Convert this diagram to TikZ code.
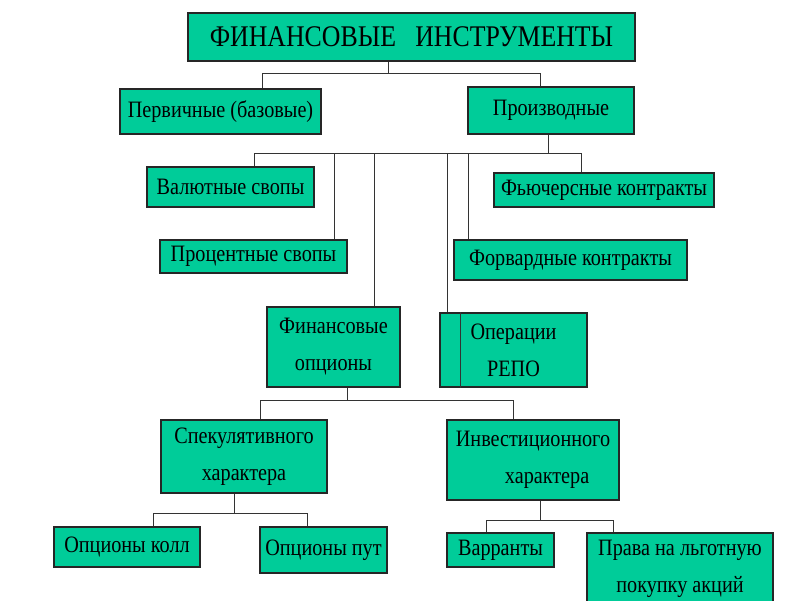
\documentclass[tikz,border=0pt]{standalone}
\usepackage{fontspec}
\setmainfont{Liberation Serif}[FakeStretch=0.86]
\definecolor{boxgreen}{RGB}{0,204,153}

\begin{document}
\begin{tikzpicture}[x=1pt, y=-1pt,
                box/.style = {draw=black!85, fill=boxgreen, line width=1.2pt, inner sep=0pt,
                              align=center, font=\fontsize{23.5}{37}\selectfont},
                link/.style = {draw=black!80, line width=1pt}]
                \useasboundingbox (0,0) rectangle (800,600);

                \node (fin)    [box, minimum width=447pt, minimum height=48pt,
                                font=\fontsize{30}{30}\selectfont] at (411.5,37) {ФИНАНСОВЫЕ\ \ \ ИНСТРУМЕНТЫ};
                \node (perv)   [box, minimum width=201pt, minimum height=45pt] at (220.5,111.5) {Первичные (базовые)};
                \node (proizv) [box, minimum width=166pt, minimum height=47pt] at (551,110.5) {Производные};
                \node (valut)  [box, minimum width=167pt, minimum height=40pt] at (230.5,187) {Валютные свопы};
                \node (fut)    [box, minimum width=220pt, minimum height=34pt] at (604,190) {Фьючерсные контракты};
                \node (proc)   [box, minimum width=187pt, minimum height=33pt] at (253.5,256.5) {Процентные свопы};
                \node (forw)   [box, minimum width=233pt, minimum height=40pt] at (570.5,260) {Форвардные контракты};
                \node (fopt)   [box, minimum width=133pt, minimum height=80pt] at (333.5,347) {Финансовые\\опционы};
                \node (repo)   [box, minimum width=147pt, minimum height=74pt] at (513.5,350) {Операции\\РЕПО};
                \node (spec)   [box, minimum width=166pt, minimum height=73pt] at (244,456.5) {Спекулятивного\\характера};
                \node (inv)    [box, minimum width=172pt, minimum height=80pt] at (533,460) {Инвестиционного\\\hspace{1.2em}характера};
                \node (call)   [box, minimum width=146pt, minimum height=40pt] at (127,547) {Опционы колл};
                \node (put)    [box, minimum width=127pt, minimum height=46pt] at (323.5,550) {Опционы пут};
                \node (warr)   [box, minimum width=107pt, minimum height=34pt] at (500.5,550) {Варранты};
                \node (prava)  [box, minimum width=186pt, minimum height=71pt] at (680,568.5) {Права на льготную\\покупку акций};

                \draw [link] ([xshift=21pt]repo.north west) -- ([xshift=21pt]repo.south west);

                \path [link]
                    ([xshift=-23.5pt]fin.south) -- ++(0,12) -| ([xshift=41.5pt]perv.north)
                    ([xshift=-23.5pt]fin.south) -- ++(0,12) -| ([xshift=-11pt]proizv.north)
                    ([xshift=-3pt]proizv.south) -- ++(0,19) -| ([xshift=23.5pt]valut.north)
                    ([xshift=-3pt]proizv.south) -- ++(0,19) -| ([xshift=80.5pt]proc.north)
                    ([xshift=-3pt]proizv.south) -- ++(0,19) -| ([xshift=40.5pt]fopt.north)
                    ([xshift=-3pt]proizv.south) -- ++(0,19) -| ([xshift=-66.5pt]repo.north)
                    ([xshift=-3pt]proizv.south) -- ++(0,19) -| ([xshift=-102.5pt]forw.north)
                    ([xshift=-3pt]proizv.south) -- ++(0,19) -| ([xshift=-23pt]fut.north)
                    ([xshift=13.5pt]fopt.south) -- ++(0,13) -| ([xshift=16pt]spec.north)
                    ([xshift=13.5pt]fopt.south) -- ++(0,13) -| ([xshift=-20pt]inv.north)
                    ([xshift=-10pt]spec.south) -- ++(0,20) -| ([xshift=26pt]call.north)
                    ([xshift=-10pt]spec.south) -- ++(0,20) -| ([xshift=-16.5pt]put.north)
                    ([xshift=7pt]inv.south) -- ++(0,20) -| ([xshift=-14.5pt]warr.north)
                    ([xshift=7pt]inv.south) -- ++(0,20) -| ([xshift=-67pt]prava.north);
            \end{tikzpicture}
\end{document}
